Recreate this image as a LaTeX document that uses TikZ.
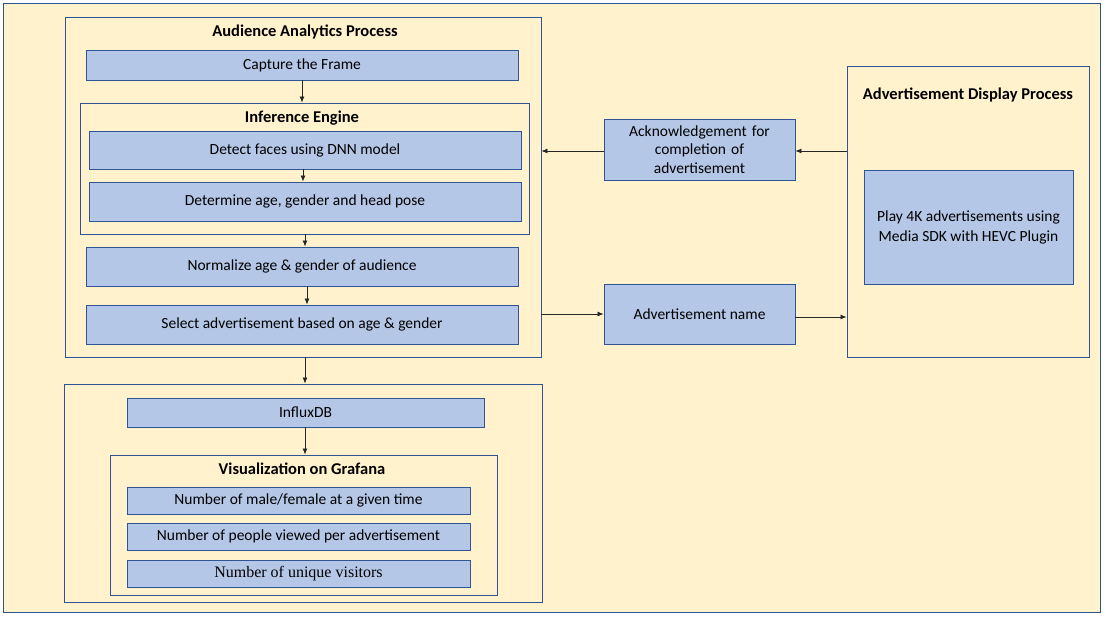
\documentclass[tikz,border=0pt]{standalone}
\usepackage{fontspec}
\setmainfont{Carlito}
\newfontfamily\serifnum{Liberation Serif}
\usetikzlibrary{arrows.meta}
\definecolor{bgyel}{HTML}{FFF2CC}
\definecolor{boxblue}{HTML}{B4C7E7}
\definecolor{edgeblue}{HTML}{2F5597}
\tikzset{
  box/.style={draw=edgeblue, fill=boxblue, line width=0.9pt, inner sep=0pt, align=center, font=\fontsize{15.5}{18.5}\selectfont},
  frame/.style={draw=edgeblue, fill=bgyel, line width=0.9pt, inner sep=0pt},
  ttl/.style={font=\bfseries\fontsize{16.5}{19}\selectfont, inner sep=0pt},
  arr/.style={draw=black!85, line width=0.8pt, -{Latex[length=6pt,width=5pt]}}
}
\begin{document}
\begin{tikzpicture}[x=1pt,y=-1pt]
\useasboundingbox (0,0) rectangle (1106,616);
\fill[white] (0,0) rectangle (1106,616);
\draw[frame] (3,3) rectangle (1100,612);

% Audience Analytics Process
\node[frame, minimum width=476pt, minimum height=340pt] (aap) at (303,187) {};
\node[ttl] (aapt) at (305,32) {Audience Analytics Process};
\node[box, minimum width=432pt, minimum height=30pt] (cap) at (302,65) {Capture the Frame};
\node[frame, minimum width=449pt, minimum height=131pt] (ie) at (304.5,168.5) {};
\node[ttl] (iet) at (302,118) {Inference Engine};
\node[box, minimum width=432pt, minimum height=38pt] (det) at (305,150) {Detect faces using DNN model};
\node[box, minimum width=432pt, minimum height=39pt] (dtm) at (305,201.5) {Determine age, gender and head pose};
\node[box, minimum width=432pt, minimum height=39pt] (nrm) at (302,266.5) {Normalize age \& gender of audience};
\node[box, minimum width=432pt, minimum height=39pt] (sel) at (302,324.5) {Select advertisement based on age \& gender};

% Middle boxes
\node[box, minimum width=191pt, minimum height=61pt, text width=185pt] (ack) at (699.5,149.5) {Acknowledgement for\\completion of\\advertisement};
\node[box, minimum width=191pt, minimum height=60pt] (adn) at (699.5,314) {Advertisement name};

% Advertisement Display Process
\node[frame, minimum width=242pt, minimum height=291pt] (adp) at (968,211.5) {};
\node[ttl] (adpt) at (968,95) {Advertisement Display Process};
\node[box, minimum width=209pt, minimum height=114pt, font=\fontsize{15.5}{20}\selectfont] (play) at (968.5,227) {Play 4K advertisements using\\Media SDK with HEVC Plugin};

% Bottom part
\node[frame, minimum width=478pt, minimum height=218pt] (btm) at (303,493) {};
\node[box, minimum width=357pt, minimum height=29pt] (inf) at (305.5,412.5) {InfluxDB};
\node[frame, minimum width=387pt, minimum height=140pt] (gra) at (303.5,525) {};
\node[ttl] (grat) at (302,469) {Visualization on Grafana};
\node[box, minimum width=343pt, minimum height=27pt] (m1) at (298.5,500.5) {Number of male/female at a given time};
\node[box, minimum width=343pt, minimum height=27pt] (m2) at (298.5,536.5) {Number of people viewed per advertisement};
\node[box, minimum width=343pt, minimum height=27pt, font=\serifnum\fontsize{16}{18}\selectfont] (m3) at (298.5,573.5) {Number of unique visitors};

% Arrows
\draw[arr] (cap.south) -- (cap.south |- ie.north);
\draw[arr] (det.south -| 303,0) -- (dtm.north -| 303,0);
\draw[arr] (ie.south -| 305,0) -- (nrm.north -| 305,0);
\draw[arr] (nrm.south -| 307,0) -- (sel.north -| 307,0);
\draw[arr] (aap.south -| 305,0) -- (btm.north -| 305,0);
\draw[arr] (inf.south -| 305,0) -- (gra.north -| 305,0);
\draw[arr] (ack.west |- 0,151) -- (aap.east |- 0,151);
\draw[arr] (adp.west |- 0,151) -- (ack.east |- 0,151);
\draw[arr] (aap.east |- 0,314) -- (adn.west |- 0,314);
\draw[arr] (adn.east |- 0,317) -- (adp.west |- 0,317);
\end{tikzpicture}
\end{document}
